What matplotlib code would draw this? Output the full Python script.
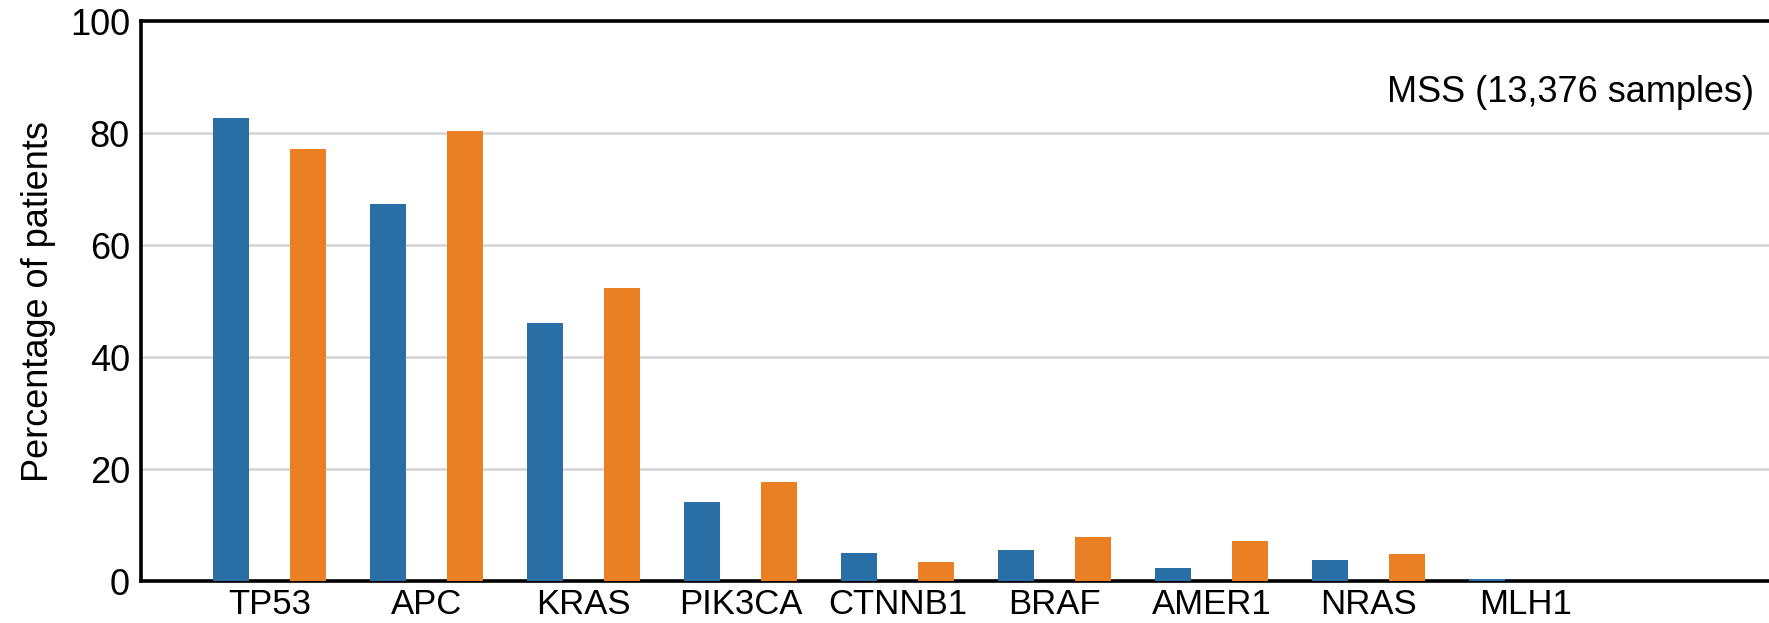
import matplotlib
matplotlib.use("Agg")
import matplotlib.pyplot as plt
import numpy as np

plt.rcParams["font.family"] = ["Liberation Sans", "DejaVu Sans"]

genes = ["TP53", "APC", "KRAS", "PIK3CA", "CTNNB1", "BRAF", "AMER1", "NRAS", "MLH1"]
series_a = [82.7, 67.3, 46.0, 14.1, 5.0, 5.6, 2.4, 3.8, 0.3]
series_b = [77.2, 80.4, 52.4, 17.7, 3.4, 7.9, 7.1, 4.8, 0.0]
y_ticks = [0, 20, 40, 60, 80, 100]
panel_label = "MSS (13,376 samples)"

BLUE = "#2a6ea6"
ORANGE = "#ea7f24"

fig = plt.figure(figsize=(17.69, 6.23), dpi=100)
ax = fig.add_axes([0.0797, 0.0674, 0.9203, 0.8986])

x = np.arange(len(genes))
w = 0.23
ax.bar(x - 0.245, series_a, width=w, color=BLUE, zorder=3)
ax.bar(x + 0.245, series_b, width=w, color=ORANGE, zorder=3)

ax.set_xlim(-0.82, 9.55)
ax.set_ylim(0, 100)
ax.set_yticks(y_ticks)
ax.set_xticks(x)
ax.set_xticklabels(genes, fontsize=25)
ax.tick_params(axis="x", length=0, pad=5)
ax.tick_params(axis="y", length=0, labelsize=26, pad=8)

# light horizontal guides, none at the top edge
for v in y_ticks[1:-1]:
    ax.axhline(v, color="#d4d4d4", lw=1.8, zorder=1)

for side in ("left", "top", "bottom"):
    ax.spines[side].set_linewidth(2.6)
    ax.spines[side].set_color("black")
ax.spines["right"].set_visible(False)

ax.set_ylabel("Percentage of patients", fontsize=26, labelpad=10)
ax.text(0.991, 0.873, panel_label, transform=ax.transAxes,
        ha="right", va="center", fontsize=26)

fig.savefig("out.png", dpi=100)
